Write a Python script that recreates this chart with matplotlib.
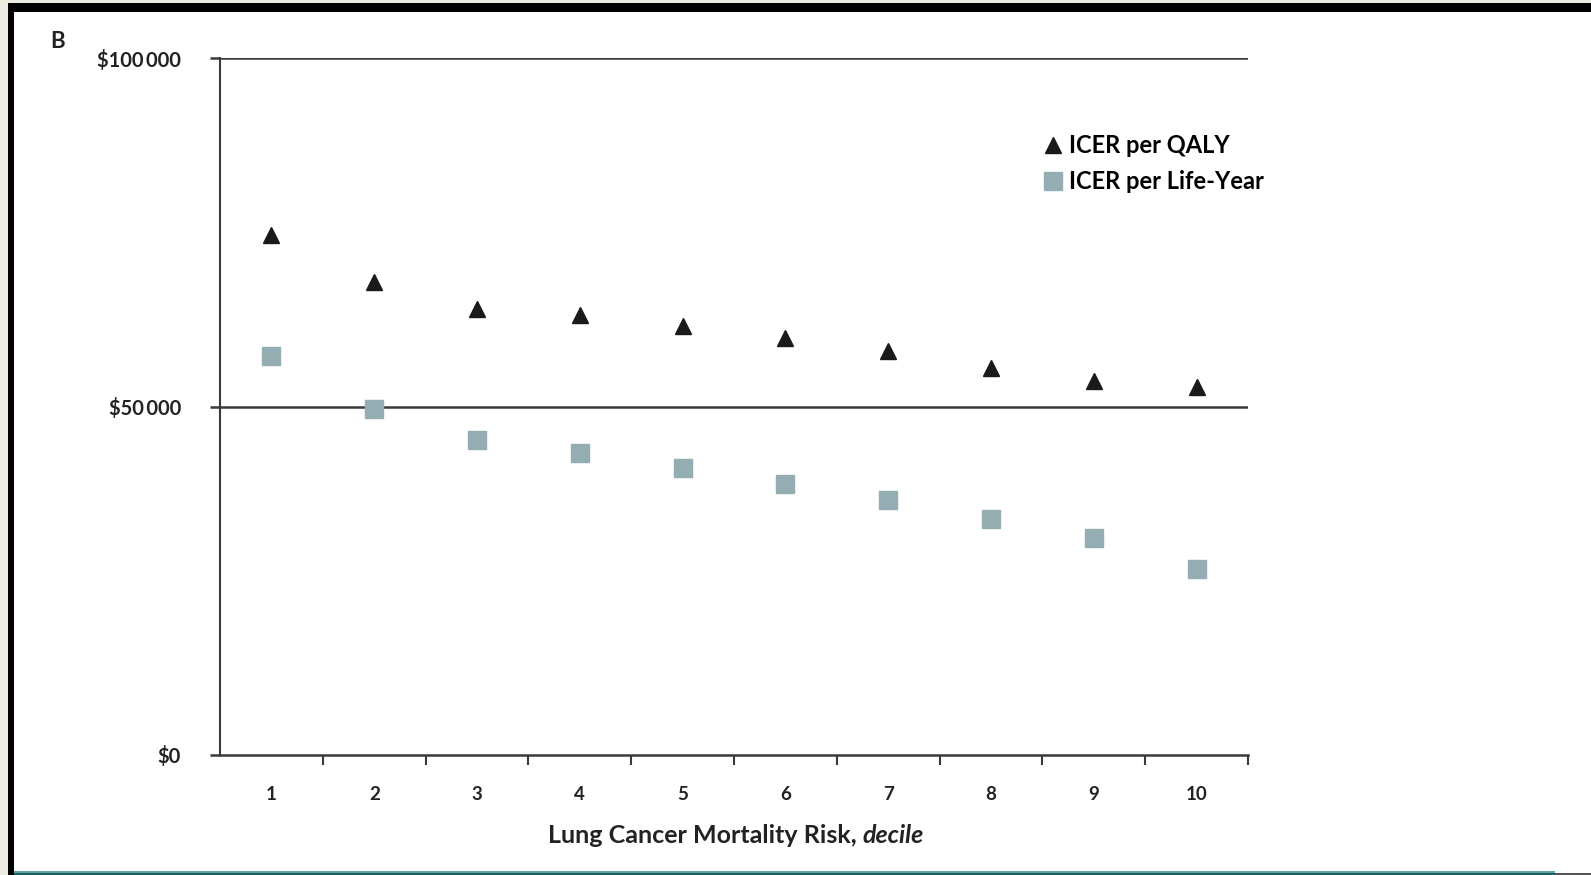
import matplotlib
matplotlib.use("Agg")
import matplotlib.pyplot as plt
from matplotlib import font_manager
from matplotlib.patches import Rectangle
from matplotlib.lines import Line2D

# ---------------- data ----------------
deciles = [1, 2, 3, 4, 5, 6, 7, 8, 9, 10]
icer_per_qaly = [74600, 67900, 63950, 63150, 61600, 59850, 57900, 55550, 53600, 52850]
icer_per_life_year = [57200, 49650, 45200, 43350, 41150, 38850, 36650, 33850, 31070, 26650]
y_ticks = [0, 50000, 100000]
y_tick_labels = ["\\$0", "\\$50\u2009000", "\\$100\u2009000"]
x_tick_labels = [str(d) for d in deciles]
series_labels = ["ICER per QALY", "ICER per Life-Year"]
x_label_main = "Lung Cancer Mortality Risk,"
x_label_italic = "decile"
panel_label = "B"

# ---------------- fonts ----------------
def pick(fams):
    for f in fams:
        try:
            font_manager.findfont(font_manager.FontProperties(family=f),
                                  fallback_to_default=False)
            return f
        except Exception:
            pass
    return "DejaVu Sans"

FONT = pick(["Lato", "Open Sans", "Liberation Sans"])
plt.rcParams["font.family"] = [FONT, "DejaVu Sans"]

W, H = 1591, 875
fig = plt.figure(figsize=(W / 100, H / 100), dpi=100)
fig.patch.set_facecolor("white")

def fx(px):
    return px / W

def fy(py):
    return 1 - py / H

# ---------------- slide frame decorations ----------------
beige = "#EDEAE2"
fig.patches.append(Rectangle((0, fy(875)), fx(8), 1, transform=fig.transFigure,
                             facecolor=beige, edgecolor="none", zorder=0))
fig.patches.append(Rectangle((0, fy(3)), 1, 3 / H, transform=fig.transFigure,
                             facecolor=beige, edgecolor="none", zorder=0))
fig.patches.append(Rectangle((fx(8), fy(12)), 1, 9 / H, transform=fig.transFigure,
                             facecolor="black", edgecolor="none", zorder=1))
fig.patches.append(Rectangle((fx(8), 0), fx(14) - fx(8), fy(3), transform=fig.transFigure,
                             facecolor="black", edgecolor="none", zorder=1))
fig.patches.append(Rectangle((fx(14), fy(875)), fx(1555) - fx(14), 2 / H, transform=fig.transFigure,
                             facecolor="#1E5F62", edgecolor="none", zorder=1))
fig.patches.append(Rectangle((fx(14), fy(873)), fx(1555) - fx(14), 2 / H, transform=fig.transFigure,
                             facecolor="#5FA3A6", edgecolor="none", zorder=1))
fig.patches.append(Rectangle((fx(1555), fy(875)), 1, 2 / H, transform=fig.transFigure,
                             facecolor="#555555", edgecolor="none", zorder=1))

# ---------------- axes ----------------
ax_left, ax_right, ax_top, ax_bottom = 220, 1248, 58, 755
ax = fig.add_axes([fx(ax_left), fy(ax_bottom), (ax_right - ax_left) / W, (ax_bottom - ax_top) / H])
ax.set_facecolor("none")
line_col = "#3a3a3a"
text_col = "#222222"

ax.set_xlim(0.5, 10.5)
ax.set_ylim(0, 100000)
for s in ["top", "right"]:
    ax.spines[s].set_visible(False)
ax.spines["left"].set_color(line_col)
ax.spines["left"].set_linewidth(1.5)
ax.spines["bottom"].set_color(line_col)
ax.spines["bottom"].set_linewidth(1.8)

for yv in y_ticks[1:]:
    ax.axhline(yv, color=line_col, lw=1.8, zorder=1)

ax.set_yticks(y_ticks)
ax.set_yticklabels(y_tick_labels)
ax.tick_params(axis="y", direction="out", length=7.2, width=1.8, color=line_col,
               pad=21, labelsize=14.5, labelcolor=text_col)

ax.set_xticks(deciles)
ax.set_xticklabels(x_tick_labels)
ax.set_xticks([d + 0.5 for d in deciles], minor=True)
ax.tick_params(axis="x", which="major", length=0, pad=22, labelsize=13.5, labelcolor=text_col)
ax.tick_params(axis="x", which="minor", direction="out", length=7, width=1.5, color=line_col)
for lab in ax.get_xticklabels() + ax.get_yticklabels():
    lab.set_fontweight("bold")

tri_col = "#1a1a1a"
sq_col = "#93ADB2"
ax.plot(deciles, icer_per_qaly, ls="none", marker="^", markersize=11,
        color=tri_col, zorder=3, clip_on=False)
ax.plot(deciles, icer_per_life_year, ls="none", marker="s", markersize=13,
        color=sq_col, zorder=3, clip_on=False)

# legend
handles = [Line2D([], [], ls="none", marker="^", markersize=11, color=tri_col),
           Line2D([], [], ls="none", marker="s", markersize=13, color=sq_col)]
ax.legend(handles, series_labels, loc="upper left", bbox_to_anchor=(fx(1042), fy(134)),
          bbox_transform=fig.transFigure, frameon=False, handlelength=0.95,
          handletextpad=0.2, labelspacing=0.55, borderpad=0, borderaxespad=0,
          prop={"family": [FONT, "DejaVu Sans"], "weight": "bold", "size": 17})

# panel label
fig.text(fx(58), fy(41), panel_label, fontsize=16, fontweight="bold", color=text_col,
         ha="center", va="center")

# x label: bold main part + bold italic "decile"
renderer = fig.canvas.get_renderer()
t1 = fig.text(0, fy(843), x_label_main, fontsize=18, fontweight="bold", color=text_col,
              ha="left", va="baseline")
t2 = fig.text(0, fy(843), x_label_italic, fontsize=18, fontweight="bold", fontstyle="italic",
              color=text_col, ha="left", va="baseline")
w1 = t1.get_window_extent(renderer).width
w2 = t2.get_window_extent(renderer).width
gap = 6
start = 736 - (w1 + gap + w2) / 2
t1.set_x(fx(start))
t2.set_x(fx(start + w1 + gap))

fig.savefig("out.png", dpi=100, facecolor=fig.get_facecolor())
